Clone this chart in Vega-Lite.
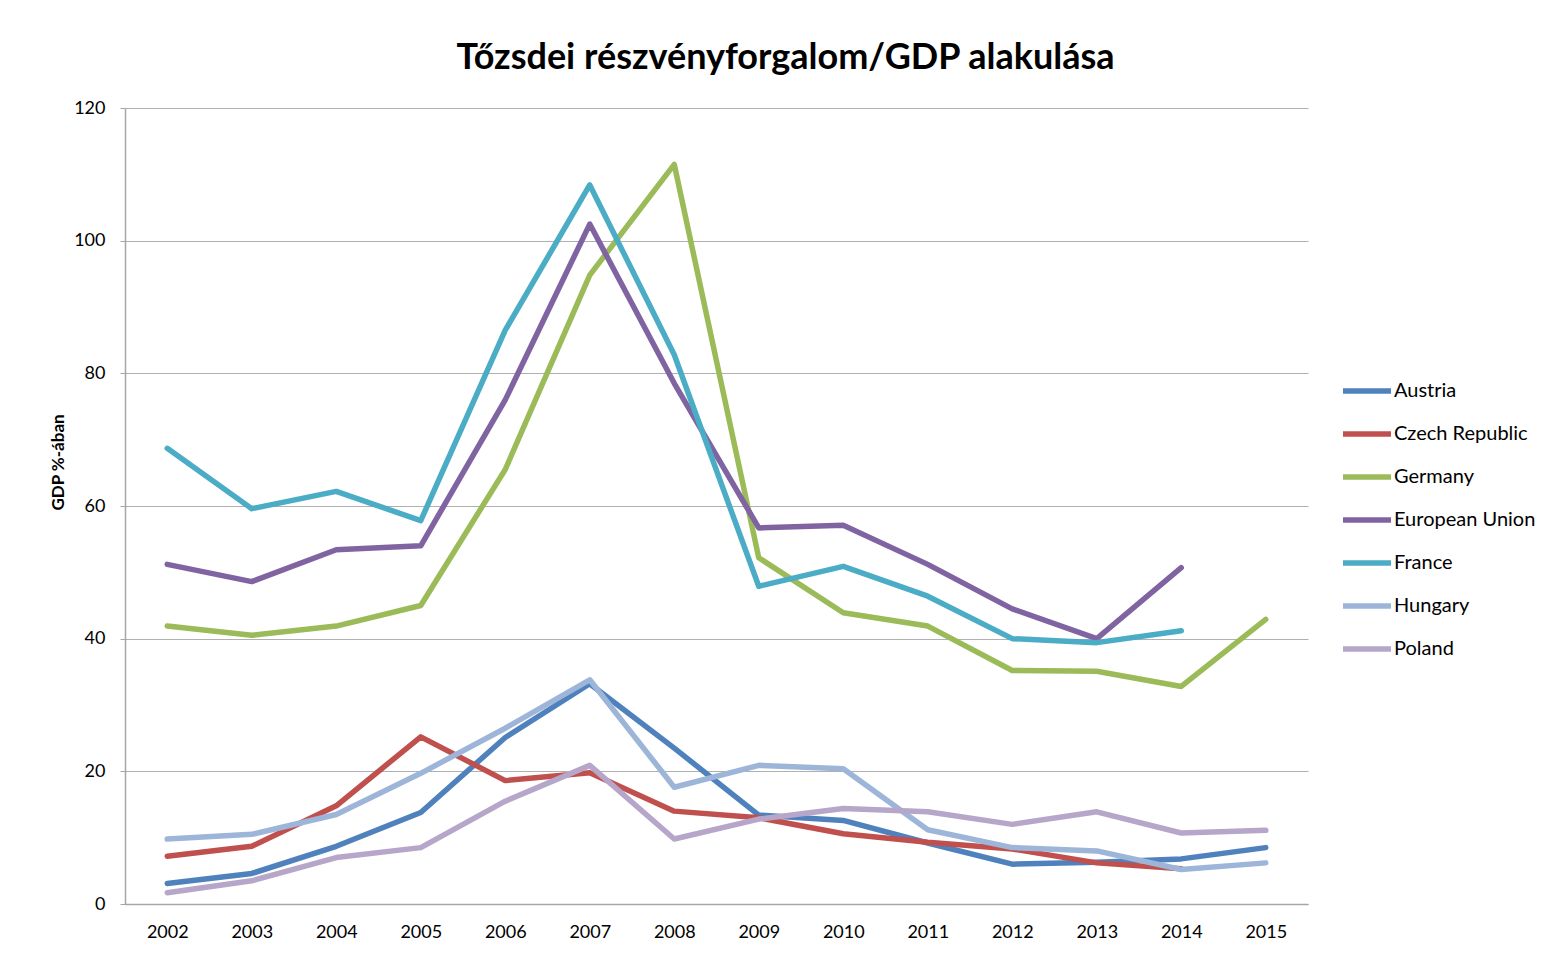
{
  "$schema": "https://vega.github.io/schema/vega-lite/v6.json",
  "width": 1183,
  "height": 796,
  "autosize": {"type": "none"},
  "padding": {"left": 125, "top": 108, "right": 241, "bottom": 50},
  "background": "white",
  "title": {
    "text": "Tőzsdei részvényforgalom/GDP alakulása",
    "font": "Lato",
    "fontSize": 36,
    "fontWeight": "bold",
    "color": "#000000",
    "anchor": "middle",
    "frame": "group",
    "dx": 69,
    "offset": 22
  },
  "data": {
    "values": [
      {"country": "Austria", "year": "2002", "value": 3.1},
      {"country": "Austria", "year": "2003", "value": 4.6},
      {"country": "Austria", "year": "2004", "value": 8.7},
      {"country": "Austria", "year": "2005", "value": 13.8},
      {"country": "Austria", "year": "2006", "value": 25.1},
      {"country": "Austria", "year": "2007", "value": 33.2},
      {"country": "Austria", "year": "2008", "value": 23.5},
      {"country": "Austria", "year": "2009", "value": 13.4},
      {"country": "Austria", "year": "2010", "value": 12.6},
      {"country": "Austria", "year": "2011", "value": 9.2},
      {"country": "Austria", "year": "2012", "value": 6.0},
      {"country": "Austria", "year": "2013", "value": 6.3},
      {"country": "Austria", "year": "2014", "value": 6.8},
      {"country": "Austria", "year": "2015", "value": 8.5},
      {"country": "Czech Republic", "year": "2002", "value": 7.2},
      {"country": "Czech Republic", "year": "2003", "value": 8.7},
      {"country": "Czech Republic", "year": "2004", "value": 14.8},
      {"country": "Czech Republic", "year": "2005", "value": 25.2},
      {"country": "Czech Republic", "year": "2006", "value": 18.6},
      {"country": "Czech Republic", "year": "2007", "value": 19.8},
      {"country": "Czech Republic", "year": "2008", "value": 14.0},
      {"country": "Czech Republic", "year": "2009", "value": 13.0},
      {"country": "Czech Republic", "year": "2010", "value": 10.6},
      {"country": "Czech Republic", "year": "2011", "value": 9.3},
      {"country": "Czech Republic", "year": "2012", "value": 8.3},
      {"country": "Czech Republic", "year": "2013", "value": 6.2},
      {"country": "Czech Republic", "year": "2014", "value": 5.3},
      {"country": "Germany", "year": "2002", "value": 41.9},
      {"country": "Germany", "year": "2003", "value": 40.5},
      {"country": "Germany", "year": "2004", "value": 41.9},
      {"country": "Germany", "year": "2005", "value": 45.0},
      {"country": "Germany", "year": "2006", "value": 65.5},
      {"country": "Germany", "year": "2007", "value": 94.8},
      {"country": "Germany", "year": "2008", "value": 111.5},
      {"country": "Germany", "year": "2009", "value": 52.2},
      {"country": "Germany", "year": "2010", "value": 43.9},
      {"country": "Germany", "year": "2011", "value": 41.9},
      {"country": "Germany", "year": "2012", "value": 35.2},
      {"country": "Germany", "year": "2013", "value": 35.1},
      {"country": "Germany", "year": "2014", "value": 32.8},
      {"country": "Germany", "year": "2015", "value": 42.9},
      {"country": "European Union", "year": "2002", "value": 51.2},
      {"country": "European Union", "year": "2003", "value": 48.6},
      {"country": "European Union", "year": "2004", "value": 53.4},
      {"country": "European Union", "year": "2005", "value": 54.0},
      {"country": "European Union", "year": "2006", "value": 76.0},
      {"country": "European Union", "year": "2007", "value": 102.5},
      {"country": "European Union", "year": "2008", "value": 78.5},
      {"country": "European Union", "year": "2009", "value": 56.7},
      {"country": "European Union", "year": "2010", "value": 57.1},
      {"country": "European Union", "year": "2011", "value": 51.2},
      {"country": "European Union", "year": "2012", "value": 44.5},
      {"country": "European Union", "year": "2013", "value": 40.0},
      {"country": "European Union", "year": "2014", "value": 50.7},
      {"country": "France", "year": "2002", "value": 68.7},
      {"country": "France", "year": "2003", "value": 59.6},
      {"country": "France", "year": "2004", "value": 62.2},
      {"country": "France", "year": "2005", "value": 57.8},
      {"country": "France", "year": "2006", "value": 86.5},
      {"country": "France", "year": "2007", "value": 108.4},
      {"country": "France", "year": "2008", "value": 82.8},
      {"country": "France", "year": "2009", "value": 47.9},
      {"country": "France", "year": "2010", "value": 50.9},
      {"country": "France", "year": "2011", "value": 46.4},
      {"country": "France", "year": "2012", "value": 40.0},
      {"country": "France", "year": "2013", "value": 39.4},
      {"country": "France", "year": "2014", "value": 41.2},
      {"country": "Hungary", "year": "2002", "value": 9.8},
      {"country": "Hungary", "year": "2003", "value": 10.5},
      {"country": "Hungary", "year": "2004", "value": 13.5},
      {"country": "Hungary", "year": "2005", "value": 19.7},
      {"country": "Hungary", "year": "2006", "value": 26.5},
      {"country": "Hungary", "year": "2007", "value": 33.8},
      {"country": "Hungary", "year": "2008", "value": 17.6},
      {"country": "Hungary", "year": "2009", "value": 20.9},
      {"country": "Hungary", "year": "2010", "value": 20.4},
      {"country": "Hungary", "year": "2011", "value": 11.2},
      {"country": "Hungary", "year": "2012", "value": 8.5},
      {"country": "Hungary", "year": "2013", "value": 8.0},
      {"country": "Hungary", "year": "2014", "value": 5.2},
      {"country": "Hungary", "year": "2015", "value": 6.2},
      {"country": "Poland", "year": "2002", "value": 1.7},
      {"country": "Poland", "year": "2003", "value": 3.5},
      {"country": "Poland", "year": "2004", "value": 7.0},
      {"country": "Poland", "year": "2005", "value": 8.5},
      {"country": "Poland", "year": "2006", "value": 15.5},
      {"country": "Poland", "year": "2007", "value": 20.9},
      {"country": "Poland", "year": "2008", "value": 9.8},
      {"country": "Poland", "year": "2009", "value": 12.8},
      {"country": "Poland", "year": "2010", "value": 14.4},
      {"country": "Poland", "year": "2011", "value": 13.9},
      {"country": "Poland", "year": "2012", "value": 12.0},
      {"country": "Poland", "year": "2013", "value": 13.9},
      {"country": "Poland", "year": "2014", "value": 10.7},
      {"country": "Poland", "year": "2015", "value": 11.1}
    ]
  },
  "mark": {"type": "line", "strokeWidth": 5.5, "strokeCap": "round", "strokeJoin": "round"},
  "encoding": {
    "x": {
      "field": "year",
      "type": "ordinal",
      "scale": {"type": "point", "padding": 0.5},
      "axis": {
        "title": null,
        "labelAngle": 0,
        "labelFont": "Lato",
        "labelFontSize": 18,
        "labelColor": "#000000",
        "labelPadding": 19,
        "ticks": false,
        "tickSize": 0,
        "grid": false,
        "domainColor": "#a6a6a6",
        "domainWidth": 1.5
      }
    },
    "y": {
      "field": "value",
      "type": "quantitative",
      "scale": {"domain": [0, 120], "nice": false},
      "axis": {
        "values": [0, 20, 40, 60, 80, 100, 120],
        "title": "GDP %-ában",
        "titleFont": "Lato",
        "titleFontSize": 17,
        "titleFontWeight": "bold",
        "titleColor": "#000000",
        "titleX": -67,
        "titleY": 354,
        "titleAngle": -90,
        "titleAlign": "center",
        "titleBaseline": "middle",
        "labelFont": "Lato",
        "labelFontSize": 18,
        "labelColor": "#000000",
        "labelPadding": 15,
        "tickSize": 5,
        "tickColor": "#a6a6a6",
        "domainColor": "#a6a6a6",
        "domainWidth": 1.5,
        "grid": true,
        "gridColor": "#b0b0b0",
        "gridWidth": 1.2
      }
    },
    "color": {
      "field": "country",
      "type": "nominal",
      "sort": ["Austria", "Czech Republic", "Germany", "European Union", "France", "Hungary", "Poland"],
      "scale": {
        "domain": ["Austria", "Czech Republic", "Germany", "European Union", "France", "Hungary", "Poland"],
        "range": ["#4F81BD", "#C0504D", "#9BBB59", "#8064A2", "#4BACC6", "#9DB5D8", "#B6A6C9"]
      },
      "legend": {
        "title": null,
        "orient": "none",
        "legendX": 1215,
        "legendY": 256,
        "symbolType": "stroke",
        "symbolStrokeWidth": 5.5,
        "symbolSize": 2304,
        "labelFont": "Lato",
        "labelFontSize": 20,
        "labelColor": "#000000",
        "labelOffset": 0,
        "rowPadding": 5
      }
    }
  },
  "config": {"view": {"stroke": null}}
}
